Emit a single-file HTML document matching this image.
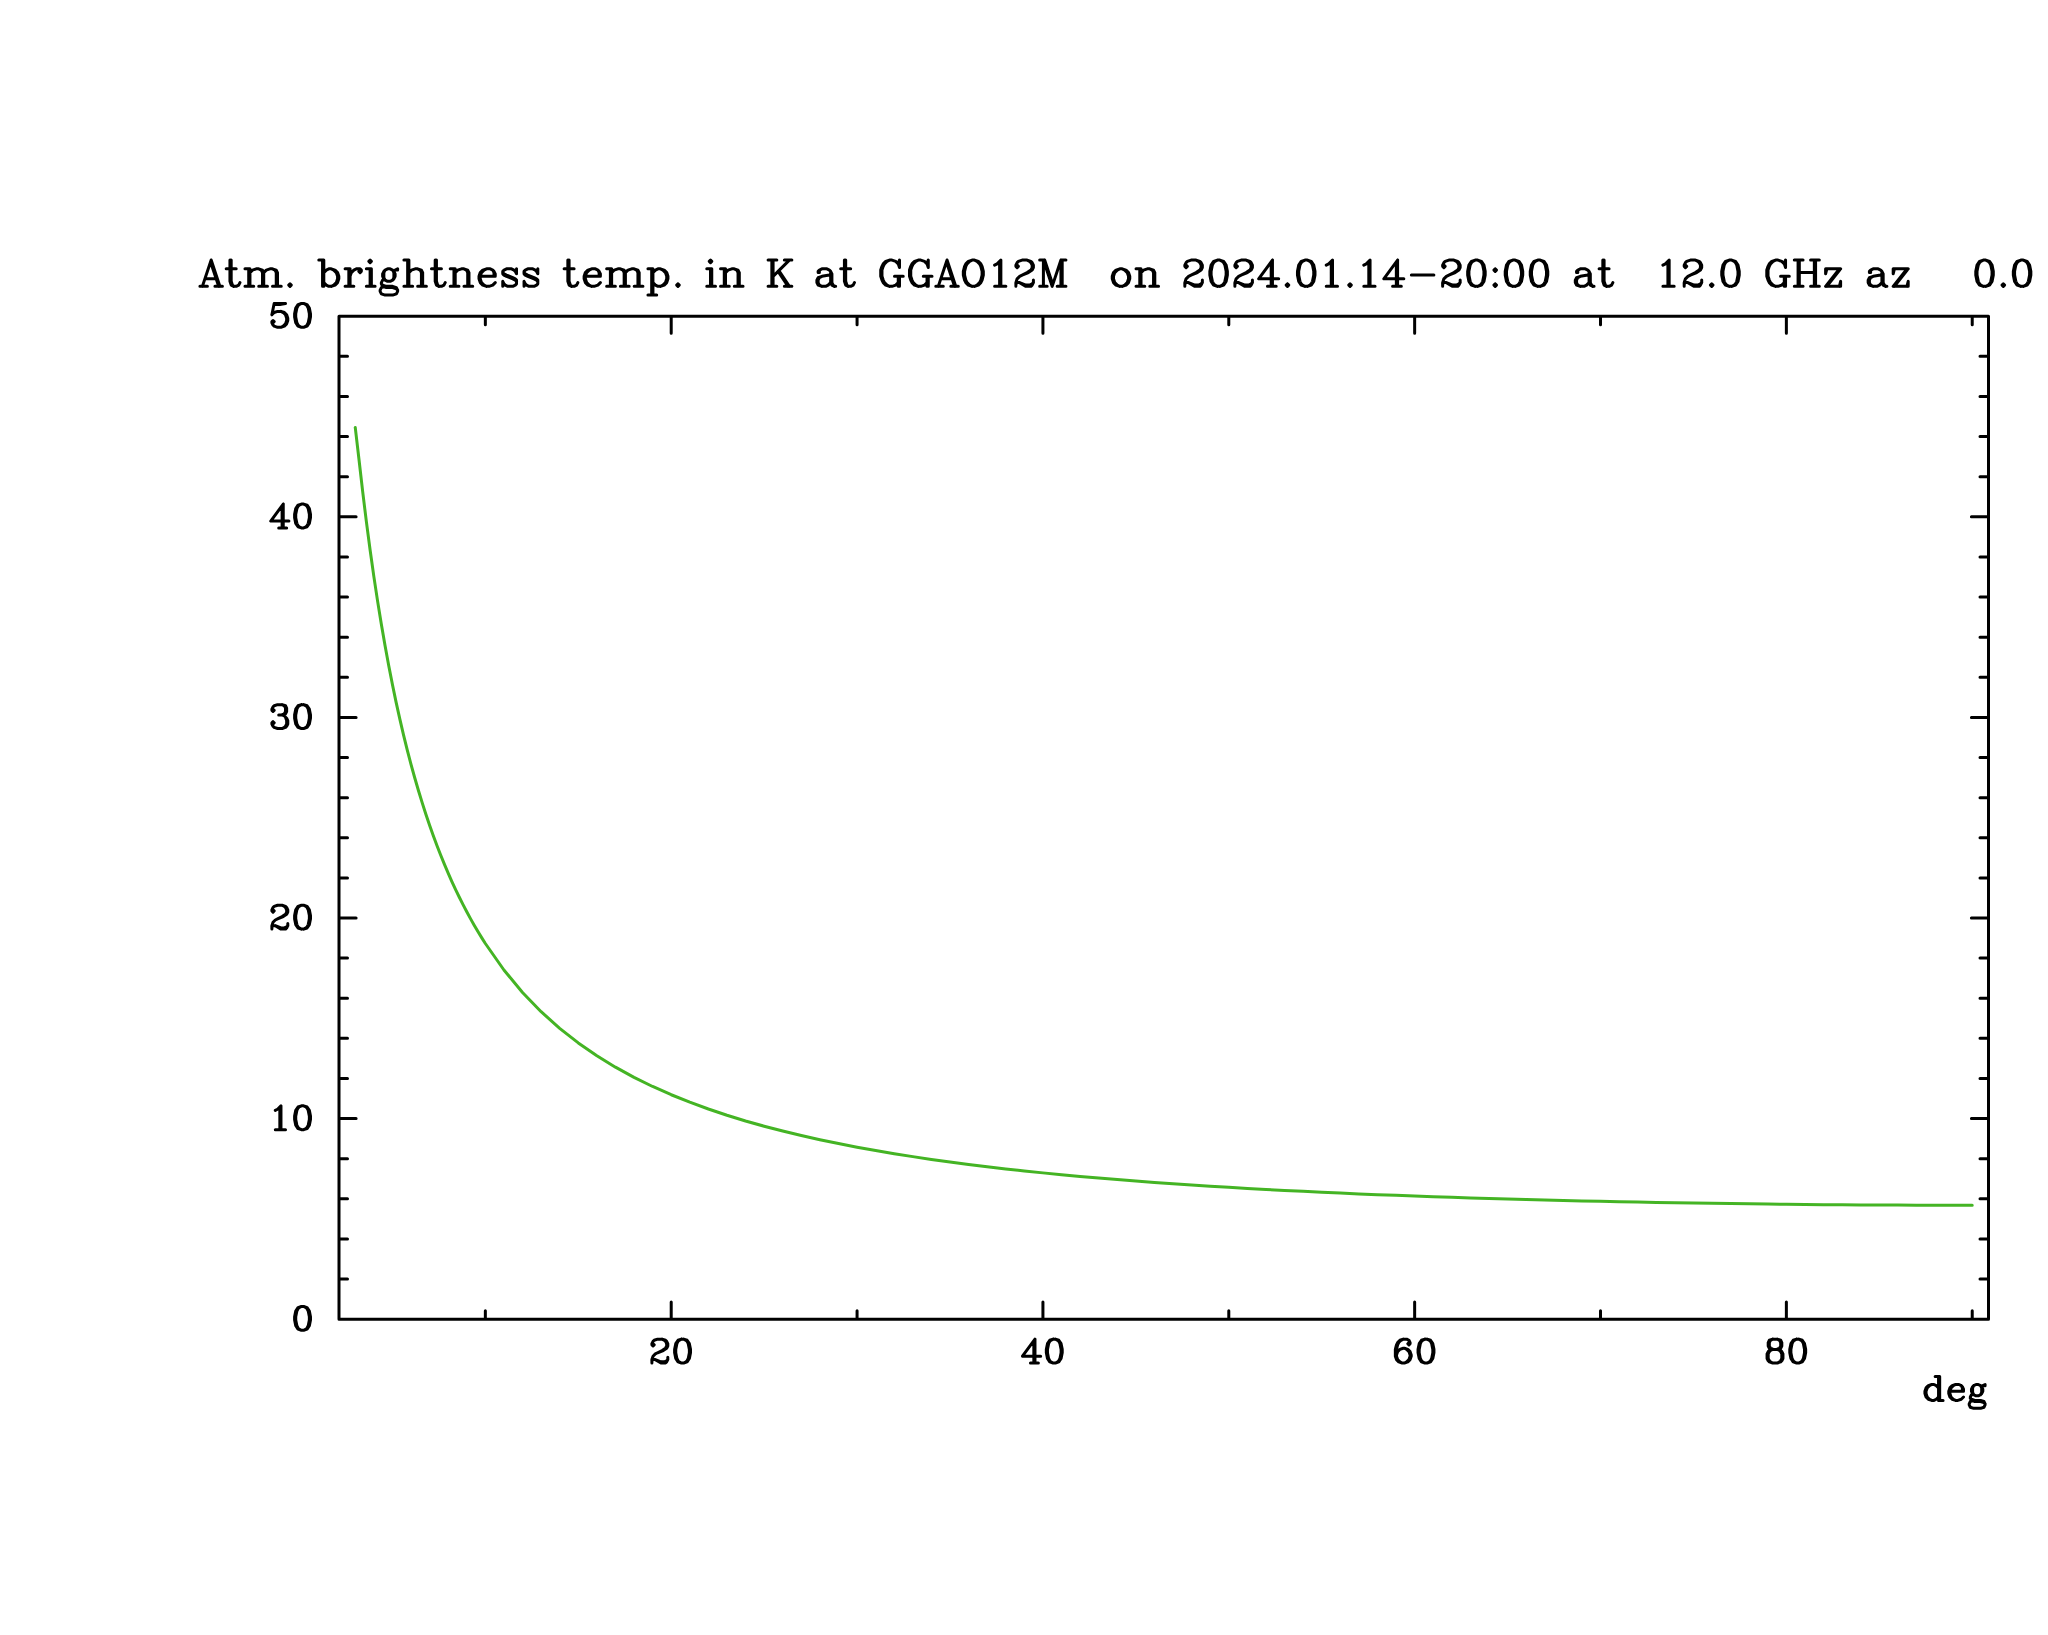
<!DOCTYPE html>
<html lang="en">
<head>
<meta charset="utf-8">
<title>Atm. brightness temp. in K at GGAO12M on 2024.01.14-20:00 at 12.0 GHz az 0.0</title>
<style>
html,body{margin:0;padding:0;background:#ffffff;font-family:"Liberation Serif",serif;}
body{width:2048px;height:1635px;overflow:hidden;position:relative;}
svg{display:block;position:absolute;left:0;top:0;}
.ink{fill:none;stroke:#000000;stroke-width:3.0;stroke-linecap:round;stroke-linejoin:round;}
.curve{fill:none;stroke:#44b424;stroke-width:3.0;stroke-linecap:round;stroke-linejoin:round;}
.sr{position:absolute;left:0;top:0;width:1px;height:1px;overflow:hidden;color:transparent;font-size:1px;white-space:nowrap;}
</style>
</head>
<body>
<svg width="2048" height="1635" viewBox="0 0 2048 1635" role="img" aria-label="Atmospheric brightness temperature versus elevation">
<rect x="0" y="0" width="2048" height="1635" fill="#ffffff"/>
<!-- plot frame and tick marks -->
<path class="ink" d="M339 316.2 H1988.5 V1319.2 H339 Z M485.35 1319.2 v-8.5 M485.35 316.2 v8.5 M671.21 1319.2 v-17.1 M671.21 316.2 v17.1 M857.07 1319.2 v-8.5 M857.07 316.2 v8.5 M1042.93 1319.2 v-17.1 M1042.93 316.2 v17.1 M1228.79 1319.2 v-8.5 M1228.79 316.2 v8.5 M1414.65 1319.2 v-17.1 M1414.65 316.2 v17.1 M1600.51 1319.2 v-8.5 M1600.51 316.2 v8.5 M1786.37 1319.2 v-17.1 M1786.37 316.2 v17.1 M1972.23 1319.2 v-8.5 M1972.23 316.2 v8.5 M339 1279.08 h8.5 M1988.5 1279.08 h-8.5 M339 1238.96 h8.5 M1988.5 1238.96 h-8.5 M339 1198.84 h8.5 M1988.5 1198.84 h-8.5 M339 1158.72 h8.5 M1988.5 1158.72 h-8.5 M339 1118.6 h17.1 M1988.5 1118.6 h-17.1 M339 1078.48 h8.5 M1988.5 1078.48 h-8.5 M339 1038.36 h8.5 M1988.5 1038.36 h-8.5 M339 998.24 h8.5 M1988.5 998.24 h-8.5 M339 958.12 h8.5 M1988.5 958.12 h-8.5 M339 918 h17.1 M1988.5 918 h-17.1 M339 877.88 h8.5 M1988.5 877.88 h-8.5 M339 837.76 h8.5 M1988.5 837.76 h-8.5 M339 797.64 h8.5 M1988.5 797.64 h-8.5 M339 757.52 h8.5 M1988.5 757.52 h-8.5 M339 717.4 h17.1 M1988.5 717.4 h-17.1 M339 677.28 h8.5 M1988.5 677.28 h-8.5 M339 637.16 h8.5 M1988.5 637.16 h-8.5 M339 597.04 h8.5 M1988.5 597.04 h-8.5 M339 556.92 h8.5 M1988.5 556.92 h-8.5 M339 516.8 h17.1 M1988.5 516.8 h-17.1 M339 476.68 h8.5 M1988.5 476.68 h-8.5 M339 436.56 h8.5 M1988.5 436.56 h-8.5 M339 396.44 h8.5 M1988.5 396.44 h-8.5 M339 356.32 h8.5 M1988.5 356.32 h-8.5"/>
<!-- title: Atm. brightness temp. in K at GGAO12M  on 2024.01.14-20:00 at  12.0 GHz az   0.0 -->
<path class="ink" d="M211.17 260.07 L202.4 286.35 M211.17 260.07 L219.93 286.35 M211.17 263.82 L218.67 286.35 M204.91 278.84 L216.17 278.84 M199.9 286.35 L207.41 286.35 M214.92 286.35 L222.43 286.35 M229.94 260.07 L229.94 281.34 L231.19 285.1 L233.69 286.35 L236.19 286.35 L238.7 285.1 L239.95 282.6 M231.19 260.07 L231.19 281.34 L232.44 285.1 L233.69 286.35 M226.18 268.83 L236.19 268.83 M248.71 268.83 L248.71 286.35 M249.96 268.83 L249.96 286.35 M249.96 272.58 L252.46 270.08 L256.22 268.83 L258.72 268.83 L262.48 270.08 L263.73 272.58 L263.73 286.35 M258.72 268.83 L261.23 270.08 L262.48 272.58 L262.48 286.35 M263.73 272.58 L266.23 270.08 L269.99 268.83 L272.49 268.83 L276.24 270.08 L277.49 272.58 L277.49 286.35 M272.49 268.83 L274.99 270.08 L276.24 272.58 L276.24 286.35 M244.96 268.83 L249.96 268.83 M244.96 286.35 L253.72 286.35 M258.72 286.35 L267.48 286.35 M272.49 286.35 L281.25 286.35 M290.01 283.85 L288.76 285.1 L290.01 286.35 L291.26 285.1 L290.01 283.85 M322.55 260.07 L322.55 286.35 M323.8 260.07 L323.8 286.35 M323.8 272.58 L326.3 270.08 L328.81 268.83 L331.31 268.83 L335.06 270.08 L337.57 272.58 L338.82 276.34 L338.82 278.84 L337.57 282.6 L335.06 285.1 L331.31 286.35 L328.81 286.35 L326.3 285.1 L323.8 282.6 M331.31 268.83 L333.81 270.08 L336.32 272.58 L337.57 276.34 L337.57 278.84 L336.32 282.6 L333.81 285.1 L331.31 286.35 M318.79 260.07 L323.8 260.07 M348.83 268.83 L348.83 286.35 M350.08 268.83 L350.08 286.35 M350.08 276.34 L351.33 272.58 L353.84 270.08 L356.34 268.83 L360.09 268.83 L361.35 270.08 L361.35 271.33 L360.09 272.58 L358.84 271.33 L360.09 270.08 M345.08 268.83 L350.08 268.83 M345.08 286.35 L353.84 286.35 M370.11 260.07 L368.85 261.32 L370.11 262.57 L371.36 261.32 L370.11 260.07 M370.11 268.83 L370.11 286.35 M371.36 268.83 L371.36 286.35 M366.35 268.83 L371.36 268.83 M366.35 286.35 L375.11 286.35 M387.63 268.83 L385.12 270.08 L383.87 271.33 L382.62 273.84 L382.62 276.34 L383.87 278.84 L385.12 280.09 L387.63 281.34 L390.13 281.34 L392.63 280.09 L393.88 278.84 L395.14 276.34 L395.14 273.84 L393.88 271.33 L392.63 270.08 L390.13 268.83 L387.63 268.83 M385.12 270.08 L383.87 272.58 L383.87 277.59 L385.12 280.09 M392.63 280.09 L393.88 277.59 L393.88 272.58 L392.63 270.08 M393.88 271.33 L395.14 270.08 L397.64 268.83 L397.64 270.08 L395.14 270.08 M383.87 278.84 L382.62 280.09 L381.37 282.6 L381.37 283.85 L382.62 286.35 L386.38 287.6 L392.63 287.6 L396.39 288.85 L397.64 290.1 M381.37 283.85 L382.62 285.1 L386.38 286.35 L392.63 286.35 L396.39 287.6 L397.64 290.1 L397.64 291.36 L396.39 293.86 L392.63 295.11 L385.12 295.11 L381.37 293.86 L380.12 291.36 L380.12 290.1 L381.37 287.6 L385.12 286.35 M407.65 260.07 L407.65 286.35 M408.9 260.07 L408.9 286.35 M408.9 272.58 L411.4 270.08 L415.16 268.83 L417.66 268.83 L421.42 270.08 L422.67 272.58 L422.67 286.35 M417.66 268.83 L420.17 270.08 L421.42 272.58 L421.42 286.35 M403.9 260.07 L408.9 260.07 M403.9 286.35 L412.66 286.35 M417.66 286.35 L426.42 286.35 M435.18 260.07 L435.18 281.34 L436.44 285.1 L438.94 286.35 L441.44 286.35 L443.94 285.1 L445.2 282.6 M436.44 260.07 L436.44 281.34 L437.69 285.1 L438.94 286.35 M431.43 268.83 L441.44 268.83 M453.96 268.83 L453.96 286.35 M455.21 268.83 L455.21 286.35 M455.21 272.58 L457.71 270.08 L461.47 268.83 L463.97 268.83 L467.72 270.08 L468.97 272.58 L468.97 286.35 M463.97 268.83 L466.47 270.08 L467.72 272.58 L467.72 286.35 M450.2 268.83 L455.21 268.83 M450.2 286.35 L458.96 286.35 M463.97 286.35 L472.73 286.35 M480.24 276.34 L495.26 276.34 L495.26 273.84 L494 271.33 L492.75 270.08 L490.25 268.83 L486.5 268.83 L482.74 270.08 L480.24 272.58 L478.99 276.34 L478.99 278.84 L480.24 282.6 L482.74 285.1 L486.5 286.35 L489 286.35 L492.75 285.1 L495.26 282.6 M494 276.34 L494 272.58 L492.75 270.08 M486.5 268.83 L483.99 270.08 L481.49 272.58 L480.24 276.34 L480.24 278.84 L481.49 282.6 L483.99 285.1 L486.5 286.35 M515.28 271.33 L516.53 268.83 L516.53 273.84 L515.28 271.33 L514.03 270.08 L511.52 268.83 L506.52 268.83 L504.02 270.08 L502.76 271.33 L502.76 273.84 L504.02 275.09 L506.52 276.34 L512.78 278.84 L515.28 280.09 L516.53 281.34 M502.76 272.58 L504.02 273.84 L506.52 275.09 L512.78 277.59 L515.28 278.84 L516.53 280.09 L516.53 283.85 L515.28 285.1 L512.78 286.35 L507.77 286.35 L505.27 285.1 L504.02 283.85 L502.76 281.34 L502.76 286.35 L504.02 283.85 M536.56 271.33 L537.81 268.83 L537.81 273.84 L536.56 271.33 L535.3 270.08 L532.8 268.83 L527.79 268.83 L525.29 270.08 L524.04 271.33 L524.04 273.84 L525.29 275.09 L527.79 276.34 L534.05 278.84 L536.56 280.09 L537.81 281.34 M524.04 272.58 L525.29 273.84 L527.79 275.09 L534.05 277.59 L536.56 278.84 L537.81 280.09 L537.81 283.85 L536.56 285.1 L534.05 286.35 L529.05 286.35 L526.54 285.1 L525.29 283.85 L524.04 281.34 L524.04 286.35 L525.29 283.85 M567.84 260.07 L567.84 281.34 L569.09 285.1 L571.6 286.35 L574.1 286.35 L576.6 285.1 L577.85 282.6 M569.09 260.07 L569.09 281.34 L570.35 285.1 L571.6 286.35 M564.09 268.83 L574.1 268.83 M585.36 276.34 L600.38 276.34 L600.38 273.84 L599.13 271.33 L597.88 270.08 L595.38 268.83 L591.62 268.83 L587.87 270.08 L585.36 272.58 L584.11 276.34 L584.11 278.84 L585.36 282.6 L587.87 285.1 L591.62 286.35 L594.12 286.35 L597.88 285.1 L600.38 282.6 M599.13 276.34 L599.13 272.58 L597.88 270.08 M591.62 268.83 L589.12 270.08 L586.62 272.58 L585.36 276.34 L585.36 278.84 L586.62 282.6 L589.12 285.1 L591.62 286.35 M610.39 268.83 L610.39 286.35 M611.64 268.83 L611.64 286.35 M611.64 272.58 L614.15 270.08 L617.9 268.83 L620.41 268.83 L624.16 270.08 L625.41 272.58 L625.41 286.35 M620.41 268.83 L622.91 270.08 L624.16 272.58 L624.16 286.35 M625.41 272.58 L627.91 270.08 L631.67 268.83 L634.17 268.83 L637.93 270.08 L639.18 272.58 L639.18 286.35 M634.17 268.83 L636.68 270.08 L637.93 272.58 L637.93 286.35 M606.64 268.83 L611.64 268.83 M606.64 286.35 L615.4 286.35 M620.41 286.35 L629.17 286.35 M634.17 286.35 L642.93 286.35 M651.69 268.83 L651.69 295.11 M652.94 268.83 L652.94 295.11 M652.94 272.58 L655.45 270.08 L657.95 268.83 L660.45 268.83 L664.21 270.08 L666.71 272.58 L667.96 276.34 L667.96 278.84 L666.71 282.6 L664.21 285.1 L660.45 286.35 L657.95 286.35 L655.45 285.1 L652.94 282.6 M660.45 268.83 L662.96 270.08 L665.46 272.58 L666.71 276.34 L666.71 278.84 L665.46 282.6 L662.96 285.1 L660.45 286.35 M647.94 268.83 L652.94 268.83 M647.94 295.11 L656.7 295.11 M677.97 283.85 L676.72 285.1 L677.97 286.35 L679.23 285.1 L677.97 283.85 M710.51 260.07 L709.26 261.32 L710.51 262.57 L711.76 261.32 L710.51 260.07 M710.51 268.83 L710.51 286.35 M711.76 268.83 L711.76 286.35 M706.76 268.83 L711.76 268.83 M706.76 286.35 L715.52 286.35 M724.28 268.83 L724.28 286.35 M725.53 268.83 L725.53 286.35 M725.53 272.58 L728.03 270.08 L731.79 268.83 L734.29 268.83 L738.05 270.08 L739.3 272.58 L739.3 286.35 M734.29 268.83 L736.79 270.08 L738.05 272.58 L738.05 286.35 M720.53 268.83 L725.53 268.83 M720.53 286.35 L729.29 286.35 M734.29 286.35 L743.05 286.35 M771.84 260.07 L771.84 286.35 M773.09 260.07 L773.09 286.35 M789.36 260.07 L773.09 276.34 M779.35 271.33 L789.36 286.35 M778.09 271.33 L788.11 286.35 M768.08 260.07 L776.84 260.07 M784.35 260.07 L791.86 260.07 M768.08 286.35 L776.84 286.35 M784.35 286.35 L791.86 286.35 M819.39 271.33 L819.39 272.58 L818.14 272.58 L818.14 271.33 L819.39 270.08 L821.9 268.83 L826.9 268.83 L829.41 270.08 L830.66 271.33 L831.91 273.84 L831.91 282.6 L833.16 285.1 L834.41 286.35 M830.66 271.33 L830.66 282.6 L831.91 285.1 L834.41 286.35 L835.66 286.35 M830.66 273.84 L829.41 275.09 L821.9 276.34 L818.14 277.59 L816.89 280.09 L816.89 282.6 L818.14 285.1 L821.9 286.35 L825.65 286.35 L828.15 285.1 L830.66 282.6 M821.9 276.34 L819.39 277.59 L818.14 280.09 L818.14 282.6 L819.39 285.1 L821.9 286.35 M844.42 260.07 L844.42 281.34 L845.68 285.1 L848.18 286.35 L850.68 286.35 L853.18 285.1 L854.44 282.6 M845.68 260.07 L845.68 281.34 L846.93 285.1 L848.18 286.35 M840.67 268.83 L850.68 268.83 M898.24 263.82 L899.49 267.58 L899.49 260.07 L898.24 263.82 L895.74 261.32 L891.98 260.07 L889.48 260.07 L885.72 261.32 L883.22 263.82 L881.97 266.33 L880.72 270.08 L880.72 276.34 L881.97 280.09 L883.22 282.6 L885.72 285.1 L889.48 286.35 L891.98 286.35 L895.74 285.1 L898.24 282.6 M889.48 260.07 L886.98 261.32 L884.47 263.82 L883.22 266.33 L881.97 270.08 L881.97 276.34 L883.22 280.09 L884.47 282.6 L886.98 285.1 L889.48 286.35 M898.24 276.34 L898.24 286.35 M899.49 276.34 L899.49 286.35 M894.48 276.34 L903.24 276.34 M927.02 263.82 L928.27 267.58 L928.27 260.07 L927.02 263.82 L924.52 261.32 L920.77 260.07 L918.26 260.07 L914.51 261.32 L912 263.82 L910.75 266.33 L909.5 270.08 L909.5 276.34 L910.75 280.09 L912 282.6 L914.51 285.1 L918.26 286.35 L920.77 286.35 L924.52 285.1 L927.02 282.6 M918.26 260.07 L915.76 261.32 L913.26 263.82 L912 266.33 L910.75 270.08 L910.75 276.34 L912 280.09 L913.26 282.6 L915.76 285.1 L918.26 286.35 M927.02 276.34 L927.02 286.35 M928.27 276.34 L928.27 286.35 M923.27 276.34 L932.03 276.34 M947.05 260.07 L938.29 286.35 M947.05 260.07 L955.81 286.35 M947.05 263.82 L954.56 286.35 M940.79 278.84 L952.05 278.84 M935.78 286.35 L943.29 286.35 M950.8 286.35 L958.31 286.35 M972.08 260.07 L968.32 261.32 L965.82 263.82 L964.57 266.33 L963.32 271.33 L963.32 275.09 L964.57 280.09 L965.82 282.6 L968.32 285.1 L972.08 286.35 L974.58 286.35 L978.33 285.1 L980.84 282.6 L982.09 280.09 L983.34 275.09 L983.34 271.33 L982.09 266.33 L980.84 263.82 L978.33 261.32 L974.58 260.07 L972.08 260.07 M972.08 260.07 L969.57 261.32 L967.07 263.82 L965.82 266.33 L964.57 271.33 L964.57 275.09 L965.82 280.09 L967.07 282.6 L969.57 285.1 L972.08 286.35 M974.58 286.35 L977.08 285.1 L979.59 282.6 L980.84 280.09 L982.09 275.09 L982.09 271.33 L980.84 266.33 L979.59 263.82 L977.08 261.32 L974.58 260.07 M994.6 265.07 L997.11 263.82 L1000.86 260.07 L1000.86 286.35 M999.61 261.32 L999.61 286.35 M994.6 286.35 L1005.87 286.35 M1017.13 265.07 L1018.38 266.33 L1017.13 267.58 L1015.88 266.33 L1015.88 265.07 L1017.13 262.57 L1018.38 261.32 L1022.14 260.07 L1027.14 260.07 L1030.9 261.32 L1032.15 262.57 L1033.4 265.07 L1033.4 267.58 L1032.15 270.08 L1028.39 272.58 L1022.14 275.09 L1019.63 276.34 L1017.13 278.84 L1015.88 282.6 L1015.88 286.35 M1027.14 260.07 L1029.65 261.32 L1030.9 262.57 L1032.15 265.07 L1032.15 267.58 L1030.9 270.08 L1027.14 272.58 L1022.14 275.09 M1015.88 283.85 L1017.13 282.6 L1019.63 282.6 L1025.89 285.1 L1029.65 285.1 L1032.15 283.85 L1033.4 282.6 M1019.63 282.6 L1025.89 286.35 L1030.9 286.35 L1032.15 285.1 L1033.4 282.6 L1033.4 280.09 M1043.41 260.07 L1043.41 286.35 M1044.66 260.07 L1052.17 282.6 M1043.41 260.07 L1052.17 286.35 M1060.93 260.07 L1052.17 286.35 M1060.93 260.07 L1060.93 286.35 M1062.19 260.07 L1062.19 286.35 M1039.66 260.07 L1044.66 260.07 M1060.93 260.07 L1065.94 260.07 M1039.66 286.35 L1047.17 286.35 M1057.18 286.35 L1065.94 286.35 M1119.75 268.83 L1116 270.08 L1113.5 272.58 L1112.25 276.34 L1112.25 278.84 L1113.5 282.6 L1116 285.1 L1119.75 286.35 L1122.26 286.35 L1126.01 285.1 L1128.51 282.6 L1129.77 278.84 L1129.77 276.34 L1128.51 272.58 L1126.01 270.08 L1122.26 268.83 L1119.75 268.83 M1119.75 268.83 L1117.25 270.08 L1114.75 272.58 L1113.5 276.34 L1113.5 278.84 L1114.75 282.6 L1117.25 285.1 L1119.75 286.35 M1122.26 286.35 L1124.76 285.1 L1127.26 282.6 L1128.51 278.84 L1128.51 276.34 L1127.26 272.58 L1124.76 270.08 L1122.26 268.83 M1139.78 268.83 L1139.78 286.35 M1141.03 268.83 L1141.03 286.35 M1141.03 272.58 L1143.53 270.08 L1147.29 268.83 L1149.79 268.83 L1153.54 270.08 L1154.8 272.58 L1154.8 286.35 M1149.79 268.83 L1152.29 270.08 L1153.54 272.58 L1153.54 286.35 M1136.02 268.83 L1141.03 268.83 M1136.02 286.35 L1144.78 286.35 M1149.79 286.35 L1158.55 286.35 M1186.08 265.07 L1187.34 266.33 L1186.08 267.58 L1184.83 266.33 L1184.83 265.07 L1186.08 262.57 L1187.34 261.32 L1191.09 260.07 L1196.1 260.07 L1199.85 261.32 L1201.1 262.57 L1202.35 265.07 L1202.35 267.58 L1201.1 270.08 L1197.35 272.58 L1191.09 275.09 L1188.59 276.34 L1186.08 278.84 L1184.83 282.6 L1184.83 286.35 M1196.1 260.07 L1198.6 261.32 L1199.85 262.57 L1201.1 265.07 L1201.1 267.58 L1199.85 270.08 L1196.1 272.58 L1191.09 275.09 M1184.83 283.85 L1186.08 282.6 L1188.59 282.6 L1194.84 285.1 L1198.6 285.1 L1201.1 283.85 L1202.35 282.6 M1188.59 282.6 L1194.84 286.35 L1199.85 286.35 L1201.1 285.1 L1202.35 282.6 L1202.35 280.09 M1217.37 260.07 L1213.62 261.32 L1211.11 265.07 L1209.86 271.33 L1209.86 275.09 L1211.11 281.34 L1213.62 285.1 L1217.37 286.35 L1219.87 286.35 L1223.63 285.1 L1226.13 281.34 L1227.38 275.09 L1227.38 271.33 L1226.13 265.07 L1223.63 261.32 L1219.87 260.07 L1217.37 260.07 M1217.37 260.07 L1214.87 261.32 L1213.62 262.57 L1212.37 265.07 L1211.11 271.33 L1211.11 275.09 L1212.37 281.34 L1213.62 283.85 L1214.87 285.1 L1217.37 286.35 M1219.87 286.35 L1222.38 285.1 L1223.63 283.85 L1224.88 281.34 L1226.13 275.09 L1226.13 271.33 L1224.88 265.07 L1223.63 262.57 L1222.38 261.32 L1219.87 260.07 M1236.14 265.07 L1237.4 266.33 L1236.14 267.58 L1234.89 266.33 L1234.89 265.07 L1236.14 262.57 L1237.4 261.32 L1241.15 260.07 L1246.16 260.07 L1249.91 261.32 L1251.16 262.57 L1252.41 265.07 L1252.41 267.58 L1251.16 270.08 L1247.41 272.58 L1241.15 275.09 L1238.65 276.34 L1236.14 278.84 L1234.89 282.6 L1234.89 286.35 M1246.16 260.07 L1248.66 261.32 L1249.91 262.57 L1251.16 265.07 L1251.16 267.58 L1249.91 270.08 L1246.16 272.58 L1241.15 275.09 M1234.89 283.85 L1236.14 282.6 L1238.65 282.6 L1244.9 285.1 L1248.66 285.1 L1251.16 283.85 L1252.41 282.6 M1238.65 282.6 L1244.9 286.35 L1249.91 286.35 L1251.16 285.1 L1252.41 282.6 L1252.41 280.09 M1271.19 262.57 L1271.19 286.35 M1272.44 260.07 L1272.44 286.35 M1272.44 260.07 L1258.67 278.84 L1278.69 278.84 M1267.43 286.35 L1276.19 286.35 M1287.46 283.85 L1286.2 285.1 L1287.46 286.35 L1288.71 285.1 L1287.46 283.85 M1304.98 260.07 L1301.22 261.32 L1298.72 265.07 L1297.47 271.33 L1297.47 275.09 L1298.72 281.34 L1301.22 285.1 L1304.98 286.35 L1307.48 286.35 L1311.23 285.1 L1313.74 281.34 L1314.99 275.09 L1314.99 271.33 L1313.74 265.07 L1311.23 261.32 L1307.48 260.07 L1304.98 260.07 M1304.98 260.07 L1302.47 261.32 L1301.22 262.57 L1299.97 265.07 L1298.72 271.33 L1298.72 275.09 L1299.97 281.34 L1301.22 283.85 L1302.47 285.1 L1304.98 286.35 M1307.48 286.35 L1309.98 285.1 L1311.23 283.85 L1312.49 281.34 L1313.74 275.09 L1313.74 271.33 L1312.49 265.07 L1311.23 262.57 L1309.98 261.32 L1307.48 260.07 M1326.25 265.07 L1328.75 263.82 L1332.51 260.07 L1332.51 286.35 M1331.26 261.32 L1331.26 286.35 M1326.25 286.35 L1337.52 286.35 M1350.03 283.85 L1348.78 285.1 L1350.03 286.35 L1351.28 285.1 L1350.03 283.85 M1363.8 265.07 L1366.3 263.82 L1370.05 260.07 L1370.05 286.35 M1368.8 261.32 L1368.8 286.35 M1363.8 286.35 L1375.06 286.35 M1396.34 262.57 L1396.34 286.35 M1397.59 260.07 L1397.59 286.35 M1397.59 260.07 L1383.82 278.84 L1403.84 278.84 M1392.58 286.35 L1401.34 286.35 M1411.35 275.09 L1433.88 275.09 M1443.89 265.07 L1445.14 266.33 L1443.89 267.58 L1442.64 266.33 L1442.64 265.07 L1443.89 262.57 L1445.14 261.32 L1448.9 260.07 L1453.9 260.07 L1457.66 261.32 L1458.91 262.57 L1460.16 265.07 L1460.16 267.58 L1458.91 270.08 L1455.16 272.58 L1448.9 275.09 L1446.4 276.34 L1443.89 278.84 L1442.64 282.6 L1442.64 286.35 M1453.9 260.07 L1456.41 261.32 L1457.66 262.57 L1458.91 265.07 L1458.91 267.58 L1457.66 270.08 L1453.9 272.58 L1448.9 275.09 M1442.64 283.85 L1443.89 282.6 L1446.4 282.6 L1452.65 285.1 L1456.41 285.1 L1458.91 283.85 L1460.16 282.6 M1446.4 282.6 L1452.65 286.35 L1457.66 286.35 L1458.91 285.1 L1460.16 282.6 L1460.16 280.09 M1475.18 260.07 L1471.43 261.32 L1468.92 265.07 L1467.67 271.33 L1467.67 275.09 L1468.92 281.34 L1471.43 285.1 L1475.18 286.35 L1477.68 286.35 L1481.44 285.1 L1483.94 281.34 L1485.19 275.09 L1485.19 271.33 L1483.94 265.07 L1481.44 261.32 L1477.68 260.07 L1475.18 260.07 M1475.18 260.07 L1472.68 261.32 L1471.43 262.57 L1470.17 265.07 L1468.92 271.33 L1468.92 275.09 L1470.17 281.34 L1471.43 283.85 L1472.68 285.1 L1475.18 286.35 M1477.68 286.35 L1480.19 285.1 L1481.44 283.85 L1482.69 281.34 L1483.94 275.09 L1483.94 271.33 L1482.69 265.07 L1481.44 262.57 L1480.19 261.32 L1477.68 260.07 M1495.2 268.83 L1493.95 270.08 L1495.2 271.33 L1496.46 270.08 L1495.2 268.83 M1495.2 283.85 L1493.95 285.1 L1495.2 286.35 L1496.46 285.1 L1495.2 283.85 M1512.73 260.07 L1508.97 261.32 L1506.47 265.07 L1505.22 271.33 L1505.22 275.09 L1506.47 281.34 L1508.97 285.1 L1512.73 286.35 L1515.23 286.35 L1518.98 285.1 L1521.49 281.34 L1522.74 275.09 L1522.74 271.33 L1521.49 265.07 L1518.98 261.32 L1515.23 260.07 L1512.73 260.07 M1512.73 260.07 L1510.22 261.32 L1508.97 262.57 L1507.72 265.07 L1506.47 271.33 L1506.47 275.09 L1507.72 281.34 L1508.97 283.85 L1510.22 285.1 L1512.73 286.35 M1515.23 286.35 L1517.73 285.1 L1518.98 283.85 L1520.23 281.34 L1521.49 275.09 L1521.49 271.33 L1520.23 265.07 L1518.98 262.57 L1517.73 261.32 L1515.23 260.07 M1537.76 260.07 L1534 261.32 L1531.5 265.07 L1530.25 271.33 L1530.25 275.09 L1531.5 281.34 L1534 285.1 L1537.76 286.35 L1540.26 286.35 L1544.01 285.1 L1546.52 281.34 L1547.77 275.09 L1547.77 271.33 L1546.52 265.07 L1544.01 261.32 L1540.26 260.07 L1537.76 260.07 M1537.76 260.07 L1535.25 261.32 L1534 262.57 L1532.75 265.07 L1531.5 271.33 L1531.5 275.09 L1532.75 281.34 L1534 283.85 L1535.25 285.1 L1537.76 286.35 M1540.26 286.35 L1542.76 285.1 L1544.01 283.85 L1545.26 281.34 L1546.52 275.09 L1546.52 271.33 L1545.26 265.07 L1544.01 262.57 L1542.76 261.32 L1540.26 260.07 M1577.8 271.33 L1577.8 272.58 L1576.55 272.58 L1576.55 271.33 L1577.8 270.08 L1580.31 268.83 L1585.31 268.83 L1587.82 270.08 L1589.07 271.33 L1590.32 273.84 L1590.32 282.6 L1591.57 285.1 L1592.82 286.35 M1589.07 271.33 L1589.07 282.6 L1590.32 285.1 L1592.82 286.35 L1594.07 286.35 M1589.07 273.84 L1587.82 275.09 L1580.31 276.34 L1576.55 277.59 L1575.3 280.09 L1575.3 282.6 L1576.55 285.1 L1580.31 286.35 L1584.06 286.35 L1586.56 285.1 L1589.07 282.6 M1580.31 276.34 L1577.8 277.59 L1576.55 280.09 L1576.55 282.6 L1577.8 285.1 L1580.31 286.35 M1602.83 260.07 L1602.83 281.34 L1604.08 285.1 L1606.59 286.35 L1609.09 286.35 L1611.59 285.1 L1612.85 282.6 M1604.08 260.07 L1604.08 281.34 L1605.34 285.1 L1606.59 286.35 M1599.08 268.83 L1609.09 268.83 M1662.91 265.07 L1665.41 263.82 L1669.16 260.07 L1669.16 286.35 M1667.91 261.32 L1667.91 286.35 M1662.91 286.35 L1674.17 286.35 M1685.43 265.07 L1686.68 266.33 L1685.43 267.58 L1684.18 266.33 L1684.18 265.07 L1685.43 262.57 L1686.68 261.32 L1690.44 260.07 L1695.44 260.07 L1699.2 261.32 L1700.45 262.57 L1701.7 265.07 L1701.7 267.58 L1700.45 270.08 L1696.7 272.58 L1690.44 275.09 L1687.94 276.34 L1685.43 278.84 L1684.18 282.6 L1684.18 286.35 M1695.44 260.07 L1697.95 261.32 L1699.2 262.57 L1700.45 265.07 L1700.45 267.58 L1699.2 270.08 L1695.44 272.58 L1690.44 275.09 M1684.18 283.85 L1685.43 282.6 L1687.94 282.6 L1694.19 285.1 L1697.95 285.1 L1700.45 283.85 L1701.7 282.6 M1687.94 282.6 L1694.19 286.35 L1699.2 286.35 L1700.45 285.1 L1701.7 282.6 L1701.7 280.09 M1711.71 283.85 L1710.46 285.1 L1711.71 286.35 L1712.97 285.1 L1711.71 283.85 M1729.23 260.07 L1725.48 261.32 L1722.98 265.07 L1721.73 271.33 L1721.73 275.09 L1722.98 281.34 L1725.48 285.1 L1729.23 286.35 L1731.74 286.35 L1735.49 285.1 L1738 281.34 L1739.25 275.09 L1739.25 271.33 L1738 265.07 L1735.49 261.32 L1731.74 260.07 L1729.23 260.07 M1729.23 260.07 L1726.73 261.32 L1725.48 262.57 L1724.23 265.07 L1722.98 271.33 L1722.98 275.09 L1724.23 281.34 L1725.48 283.85 L1726.73 285.1 L1729.23 286.35 M1731.74 286.35 L1734.24 285.1 L1735.49 283.85 L1736.74 281.34 L1738 275.09 L1738 271.33 L1736.74 265.07 L1735.49 262.57 L1734.24 261.32 L1731.74 260.07 M1784.3 263.82 L1785.55 267.58 L1785.55 260.07 L1784.3 263.82 L1781.8 261.32 L1778.04 260.07 L1775.54 260.07 L1771.79 261.32 L1769.28 263.82 L1768.03 266.33 L1766.78 270.08 L1766.78 276.34 L1768.03 280.09 L1769.28 282.6 L1771.79 285.1 L1775.54 286.35 L1778.04 286.35 L1781.8 285.1 L1784.3 282.6 M1775.54 260.07 L1773.04 261.32 L1770.53 263.82 L1769.28 266.33 L1768.03 270.08 L1768.03 276.34 L1769.28 280.09 L1770.53 282.6 L1773.04 285.1 L1775.54 286.35 M1784.3 276.34 L1784.3 286.35 M1785.55 276.34 L1785.55 286.35 M1780.55 276.34 L1789.31 276.34 M1798.07 260.07 L1798.07 286.35 M1799.32 260.07 L1799.32 286.35 M1814.34 260.07 L1814.34 286.35 M1815.59 260.07 L1815.59 286.35 M1794.31 260.07 L1803.07 260.07 M1810.58 260.07 L1819.34 260.07 M1799.32 272.58 L1814.34 272.58 M1794.31 286.35 L1803.07 286.35 M1810.58 286.35 L1819.34 286.35 M1839.37 268.83 L1825.6 286.35 M1840.62 268.83 L1826.85 286.35 M1826.85 268.83 L1825.6 273.84 L1825.6 268.83 L1840.62 268.83 M1825.6 286.35 L1840.62 286.35 L1840.62 281.34 L1839.37 286.35 M1870.65 271.33 L1870.65 272.58 L1869.4 272.58 L1869.4 271.33 L1870.65 270.08 L1873.16 268.83 L1878.16 268.83 L1880.67 270.08 L1881.92 271.33 L1883.17 273.84 L1883.17 282.6 L1884.42 285.1 L1885.67 286.35 M1881.92 271.33 L1881.92 282.6 L1883.17 285.1 L1885.67 286.35 L1886.92 286.35 M1881.92 273.84 L1880.67 275.09 L1873.16 276.34 L1869.4 277.59 L1868.15 280.09 L1868.15 282.6 L1869.4 285.1 L1873.16 286.35 L1876.91 286.35 L1879.41 285.1 L1881.92 282.6 M1873.16 276.34 L1870.65 277.59 L1869.4 280.09 L1869.4 282.6 L1870.65 285.1 L1873.16 286.35 M1906.95 268.83 L1893.18 286.35 M1908.2 268.83 L1894.43 286.35 M1894.43 268.83 L1893.18 273.84 L1893.18 268.83 L1908.2 268.83 M1893.18 286.35 L1908.2 286.35 L1908.2 281.34 L1906.95 286.35 M1983.29 260.07 L1979.53 261.32 L1977.03 265.07 L1975.78 271.33 L1975.78 275.09 L1977.03 281.34 L1979.53 285.1 L1983.29 286.35 L1985.79 286.35 L1989.55 285.1 L1992.05 281.34 L1993.3 275.09 L1993.3 271.33 L1992.05 265.07 L1989.55 261.32 L1985.79 260.07 L1983.29 260.07 M1983.29 260.07 L1980.79 261.32 L1979.53 262.57 L1978.28 265.07 L1977.03 271.33 L1977.03 275.09 L1978.28 281.34 L1979.53 283.85 L1980.79 285.1 L1983.29 286.35 M1985.79 286.35 L1988.3 285.1 L1989.55 283.85 L1990.8 281.34 L1992.05 275.09 L1992.05 271.33 L1990.8 265.07 L1989.55 262.57 L1988.3 261.32 L1985.79 260.07 M2003.31 283.85 L2002.06 285.1 L2003.31 286.35 L2004.56 285.1 L2003.31 283.85 M2020.83 260.07 L2017.08 261.32 L2014.58 265.07 L2013.33 271.33 L2013.33 275.09 L2014.58 281.34 L2017.08 285.1 L2020.83 286.35 L2023.34 286.35 L2027.09 285.1 L2029.59 281.34 L2030.85 275.09 L2030.85 271.33 L2029.59 265.07 L2027.09 261.32 L2023.34 260.07 L2020.83 260.07 M2020.83 260.07 L2018.33 261.32 L2017.08 262.57 L2015.83 265.07 L2014.58 271.33 L2014.58 275.09 L2015.83 281.34 L2017.08 283.85 L2018.33 285.1 L2020.83 286.35 M2023.34 286.35 L2025.84 285.1 L2027.09 283.85 L2028.34 281.34 L2029.59 275.09 L2029.59 271.33 L2028.34 265.07 L2027.09 262.57 L2025.84 261.32 L2023.34 260.07"/>
<!-- axis numeric labels (x: 20 40 60 80, y: 0 10 20 30 40 50) and unit label "deg" -->
<path class="ink" d="M653.04 1343.7 L654.18 1344.83 L653.04 1345.97 L651.9 1344.83 L651.9 1343.7 L653.04 1341.43 L654.18 1340.29 L657.58 1339.16 L662.12 1339.16 L665.53 1340.29 L666.66 1341.43 L667.8 1343.7 L667.8 1345.97 L666.66 1348.24 L663.26 1350.51 L657.58 1352.78 L655.31 1353.92 L653.04 1356.19 L651.9 1359.59 L651.9 1363 M662.12 1339.16 L664.39 1340.29 L665.53 1341.43 L666.66 1343.7 L666.66 1345.97 L665.53 1348.24 L662.12 1350.51 L657.58 1352.78 M651.9 1360.73 L653.04 1359.59 L655.31 1359.59 L660.99 1361.86 L664.39 1361.86 L666.66 1360.73 L667.8 1359.59 M655.31 1359.59 L660.99 1363 L665.53 1363 L666.66 1361.86 L667.8 1359.59 L667.8 1357.32 M681.42 1339.16 L678.02 1340.29 L675.75 1343.7 L674.61 1349.38 L674.61 1352.78 L675.75 1358.46 L678.02 1361.86 L681.42 1363 L683.7 1363 L687.1 1361.86 L689.37 1358.46 L690.51 1352.78 L690.51 1349.38 L689.37 1343.7 L687.1 1340.29 L683.7 1339.16 L681.42 1339.16 M681.42 1339.16 L679.15 1340.29 L678.02 1341.43 L676.88 1343.7 L675.75 1349.38 L675.75 1352.78 L676.88 1358.46 L678.02 1360.73 L679.15 1361.86 L681.42 1363 M683.7 1363 L685.97 1361.86 L687.1 1360.73 L688.24 1358.46 L689.37 1352.78 L689.37 1349.38 L688.24 1343.7 L687.1 1341.43 L685.97 1340.29 L683.7 1339.16 M1033.84 1341.43 L1033.84 1363 M1034.98 1339.16 L1034.98 1363 M1034.98 1339.16 L1022.49 1356.19 L1040.66 1356.19 M1030.44 1363 L1038.38 1363 M1053.14 1339.16 L1049.74 1340.29 L1047.47 1343.7 L1046.33 1349.38 L1046.33 1352.78 L1047.47 1358.46 L1049.74 1361.86 L1053.14 1363 L1055.42 1363 L1058.82 1361.86 L1061.09 1358.46 L1062.23 1352.78 L1062.23 1349.38 L1061.09 1343.7 L1058.82 1340.29 L1055.42 1339.16 L1053.14 1339.16 M1053.14 1339.16 L1050.87 1340.29 L1049.74 1341.43 L1048.6 1343.7 L1047.47 1349.38 L1047.47 1352.78 L1048.6 1358.46 L1049.74 1360.73 L1050.87 1361.86 L1053.14 1363 M1055.42 1363 L1057.69 1361.86 L1058.82 1360.73 L1059.96 1358.46 L1061.09 1352.78 L1061.09 1349.38 L1059.96 1343.7 L1058.82 1341.43 L1057.69 1340.29 L1055.42 1339.16 M1408.97 1342.56 L1407.83 1343.7 L1408.97 1344.83 L1410.1 1343.7 L1410.1 1342.56 L1408.97 1340.29 L1406.7 1339.16 L1403.29 1339.16 L1399.89 1340.29 L1397.62 1342.56 L1396.48 1344.83 L1395.34 1349.38 L1395.34 1356.19 L1396.48 1359.59 L1398.75 1361.86 L1402.16 1363 L1404.43 1363 L1407.83 1361.86 L1410.1 1359.59 L1411.24 1356.19 L1411.24 1355.05 L1410.1 1351.65 L1407.83 1349.38 L1404.43 1348.24 L1403.29 1348.24 L1399.89 1349.38 L1397.62 1351.65 L1396.48 1355.05 M1403.29 1339.16 L1401.02 1340.29 L1398.75 1342.56 L1397.62 1344.83 L1396.48 1349.38 L1396.48 1356.19 L1397.62 1359.59 L1399.89 1361.86 L1402.16 1363 M1404.43 1363 L1406.7 1361.86 L1408.97 1359.59 L1410.1 1356.19 L1410.1 1355.05 L1408.97 1351.65 L1406.7 1349.38 L1404.43 1348.24 M1424.86 1339.16 L1421.46 1340.29 L1419.19 1343.7 L1418.05 1349.38 L1418.05 1352.78 L1419.19 1358.46 L1421.46 1361.86 L1424.86 1363 L1427.14 1363 L1430.54 1361.86 L1432.81 1358.46 L1433.95 1352.78 L1433.95 1349.38 L1432.81 1343.7 L1430.54 1340.29 L1427.14 1339.16 L1424.86 1339.16 M1424.86 1339.16 L1422.59 1340.29 L1421.46 1341.43 L1420.32 1343.7 L1419.19 1349.38 L1419.19 1352.78 L1420.32 1358.46 L1421.46 1360.73 L1422.59 1361.86 L1424.86 1363 M1427.14 1363 L1429.41 1361.86 L1430.54 1360.73 L1431.68 1358.46 L1432.81 1352.78 L1432.81 1349.38 L1431.68 1343.7 L1430.54 1341.43 L1429.41 1340.29 L1427.14 1339.16 M1772.74 1339.16 L1769.34 1340.29 L1768.2 1342.56 L1768.2 1345.97 L1769.34 1348.24 L1772.74 1349.38 L1777.28 1349.38 L1780.69 1348.24 L1781.82 1345.97 L1781.82 1342.56 L1780.69 1340.29 L1777.28 1339.16 L1772.74 1339.16 M1772.74 1339.16 L1770.47 1340.29 L1769.34 1342.56 L1769.34 1345.97 L1770.47 1348.24 L1772.74 1349.38 M1777.28 1349.38 L1779.55 1348.24 L1780.69 1345.97 L1780.69 1342.56 L1779.55 1340.29 L1777.28 1339.16 M1772.74 1349.38 L1769.34 1350.51 L1768.2 1351.65 L1767.06 1353.92 L1767.06 1358.46 L1768.2 1360.73 L1769.34 1361.86 L1772.74 1363 L1777.28 1363 L1780.69 1361.86 L1781.82 1360.73 L1782.96 1358.46 L1782.96 1353.92 L1781.82 1351.65 L1780.69 1350.51 L1777.28 1349.38 M1772.74 1349.38 L1770.47 1350.51 L1769.34 1351.65 L1768.2 1353.92 L1768.2 1358.46 L1769.34 1360.73 L1770.47 1361.86 L1772.74 1363 M1777.28 1363 L1779.55 1361.86 L1780.69 1360.73 L1781.82 1358.46 L1781.82 1353.92 L1780.69 1351.65 L1779.55 1350.51 L1777.28 1349.38 M1796.58 1339.16 L1793.18 1340.29 L1790.91 1343.7 L1789.77 1349.38 L1789.77 1352.78 L1790.91 1358.46 L1793.18 1361.86 L1796.58 1363 L1798.86 1363 L1802.26 1361.86 L1804.53 1358.46 L1805.67 1352.78 L1805.67 1349.38 L1804.53 1343.7 L1802.26 1340.29 L1798.86 1339.16 L1796.58 1339.16 M1796.58 1339.16 L1794.31 1340.29 L1793.18 1341.43 L1792.04 1343.7 L1790.91 1349.38 L1790.91 1352.78 L1792.04 1358.46 L1793.18 1360.73 L1794.31 1361.86 L1796.58 1363 M1798.86 1363 L1801.13 1361.86 L1802.26 1360.73 L1803.4 1358.46 L1804.53 1352.78 L1804.53 1349.38 L1803.4 1343.7 L1802.26 1341.43 L1801.13 1340.29 L1798.86 1339.16 M301.41 1306.46 L298 1307.59 L295.73 1311 L294.6 1316.68 L294.6 1320.08 L295.73 1325.76 L298 1329.16 L301.41 1330.3 L303.68 1330.3 L307.09 1329.16 L309.36 1325.76 L310.49 1320.08 L310.49 1316.68 L309.36 1311 L307.09 1307.59 L303.68 1306.46 L301.41 1306.46 M301.41 1306.46 L299.14 1307.59 L298 1308.73 L296.87 1311 L295.73 1316.68 L295.73 1320.08 L296.87 1325.76 L298 1328.03 L299.14 1329.16 L301.41 1330.3 M303.68 1330.3 L305.95 1329.16 L307.09 1328.03 L308.22 1325.76 L309.36 1320.08 L309.36 1316.68 L308.22 1311 L307.09 1308.73 L305.95 1307.59 L303.68 1306.46 M275.3 1110.4 L277.57 1109.26 L280.97 1105.86 L280.97 1129.7 M279.84 1106.99 L279.84 1129.7 M275.3 1129.7 L285.51 1129.7 M301.41 1105.86 L298 1106.99 L295.73 1110.4 L294.6 1116.08 L294.6 1119.48 L295.73 1125.16 L298 1128.56 L301.41 1129.7 L303.68 1129.7 L307.09 1128.56 L309.36 1125.16 L310.49 1119.48 L310.49 1116.08 L309.36 1110.4 L307.09 1106.99 L303.68 1105.86 L301.41 1105.86 M301.41 1105.86 L299.14 1106.99 L298 1108.13 L296.87 1110.4 L295.73 1116.08 L295.73 1119.48 L296.87 1125.16 L298 1127.43 L299.14 1128.56 L301.41 1129.7 M303.68 1129.7 L305.95 1128.56 L307.09 1127.43 L308.22 1125.16 L309.36 1119.48 L309.36 1116.08 L308.22 1110.4 L307.09 1108.13 L305.95 1106.99 L303.68 1105.86 M273.03 909.8 L274.16 910.93 L273.03 912.07 L271.89 910.93 L271.89 909.8 L273.03 907.53 L274.16 906.39 L277.57 905.26 L282.11 905.26 L285.51 906.39 L286.65 907.53 L287.79 909.8 L287.79 912.07 L286.65 914.34 L283.24 916.61 L277.57 918.88 L275.3 920.02 L273.03 922.29 L271.89 925.69 L271.89 929.1 M282.11 905.26 L284.38 906.39 L285.51 907.53 L286.65 909.8 L286.65 912.07 L285.51 914.34 L282.11 916.61 L277.57 918.88 M271.89 926.83 L273.03 925.69 L275.3 925.69 L280.97 927.96 L284.38 927.96 L286.65 926.83 L287.79 925.69 M275.3 925.69 L280.97 929.1 L285.51 929.1 L286.65 927.96 L287.79 925.69 L287.79 923.42 M301.41 905.26 L298 906.39 L295.73 909.8 L294.6 915.48 L294.6 918.88 L295.73 924.56 L298 927.96 L301.41 929.1 L303.68 929.1 L307.09 927.96 L309.36 924.56 L310.49 918.88 L310.49 915.48 L309.36 909.8 L307.09 906.39 L303.68 905.26 L301.41 905.26 M301.41 905.26 L299.14 906.39 L298 907.53 L296.87 909.8 L295.73 915.48 L295.73 918.88 L296.87 924.56 L298 926.83 L299.14 927.96 L301.41 929.1 M303.68 929.1 L305.95 927.96 L307.09 926.83 L308.22 924.56 L309.36 918.88 L309.36 915.48 L308.22 909.8 L307.09 907.53 L305.95 906.39 L303.68 905.26 M273.03 709.2 L274.16 710.33 L273.03 711.47 L271.89 710.33 L271.89 709.2 L273.03 706.93 L274.16 705.79 L277.57 704.66 L282.11 704.66 L285.51 705.79 L286.65 708.06 L286.65 711.47 L285.51 713.74 L282.11 714.88 L278.7 714.88 M282.11 704.66 L284.38 705.79 L285.51 708.06 L285.51 711.47 L284.38 713.74 L282.11 714.88 M282.11 714.88 L284.38 716.01 L286.65 718.28 L287.79 720.55 L287.79 723.96 L286.65 726.23 L285.51 727.36 L282.11 728.5 L277.57 728.5 L274.16 727.36 L273.03 726.23 L271.89 723.96 L271.89 722.82 L273.03 721.69 L274.16 722.82 L273.03 723.96 M285.51 717.15 L286.65 720.55 L286.65 723.96 L285.51 726.23 L284.38 727.36 L282.11 728.5 M301.41 704.66 L298 705.79 L295.73 709.2 L294.6 714.88 L294.6 718.28 L295.73 723.96 L298 727.36 L301.41 728.5 L303.68 728.5 L307.09 727.36 L309.36 723.96 L310.49 718.28 L310.49 714.88 L309.36 709.2 L307.09 705.79 L303.68 704.66 L301.41 704.66 M301.41 704.66 L299.14 705.79 L298 706.93 L296.87 709.2 L295.73 714.88 L295.73 718.28 L296.87 723.96 L298 726.23 L299.14 727.36 L301.41 728.5 M303.68 728.5 L305.95 727.36 L307.09 726.23 L308.22 723.96 L309.36 718.28 L309.36 714.88 L308.22 709.2 L307.09 706.93 L305.95 705.79 L303.68 704.66 M282.11 506.33 L282.11 527.9 M283.24 504.06 L283.24 527.9 M283.24 504.06 L270.75 521.09 L288.92 521.09 M278.7 527.9 L286.65 527.9 M301.41 504.06 L298 505.19 L295.73 508.6 L294.6 514.28 L294.6 517.68 L295.73 523.36 L298 526.76 L301.41 527.9 L303.68 527.9 L307.09 526.76 L309.36 523.36 L310.49 517.68 L310.49 514.28 L309.36 508.6 L307.09 505.19 L303.68 504.06 L301.41 504.06 M301.41 504.06 L299.14 505.19 L298 506.33 L296.87 508.6 L295.73 514.28 L295.73 517.68 L296.87 523.36 L298 525.63 L299.14 526.76 L301.41 527.9 M303.68 527.9 L305.95 526.76 L307.09 525.63 L308.22 523.36 L309.36 517.68 L309.36 514.28 L308.22 508.6 L307.09 506.33 L305.95 505.19 L303.68 504.06 M274.16 303.46 L271.89 314.81 M271.89 314.81 L274.16 312.54 L277.57 311.4 L280.97 311.4 L284.38 312.54 L286.65 314.81 L287.79 318.22 L287.79 320.49 L286.65 323.89 L284.38 326.16 L280.97 327.3 L277.57 327.3 L274.16 326.16 L273.03 325.03 L271.89 322.76 L271.89 321.62 L273.03 320.49 L274.16 321.62 L273.03 322.76 M280.97 311.4 L283.24 312.54 L285.51 314.81 L286.65 318.22 L286.65 320.49 L285.51 323.89 L283.24 326.16 L280.97 327.3 M274.16 303.46 L285.51 303.46 M274.16 304.59 L279.84 304.59 L285.51 303.46 M301.41 303.46 L298 304.59 L295.73 308 L294.6 313.68 L294.6 317.08 L295.73 322.76 L298 326.16 L301.41 327.3 L303.68 327.3 L307.09 326.16 L309.36 322.76 L310.49 317.08 L310.49 313.68 L309.36 308 L307.09 304.59 L303.68 303.46 L301.41 303.46 M301.41 303.46 L299.14 304.59 L298 305.73 L296.87 308 L295.73 313.68 L295.73 317.08 L296.87 322.76 L298 325.03 L299.14 326.16 L301.41 327.3 M303.68 327.3 L305.95 326.16 L307.09 325.03 L308.22 322.76 L309.36 317.08 L309.36 313.68 L308.22 308 L307.09 305.73 L305.95 304.59 L303.68 303.46 M1938.54 1376.56 L1938.54 1400.4 M1939.68 1376.56 L1939.68 1400.4 M1938.54 1387.91 L1936.27 1385.64 L1934 1384.5 L1931.73 1384.5 L1928.32 1385.64 L1926.05 1387.91 L1924.92 1391.32 L1924.92 1393.59 L1926.05 1396.99 L1928.32 1399.26 L1931.73 1400.4 L1934 1400.4 L1936.27 1399.26 L1938.54 1396.99 M1931.73 1384.5 L1929.46 1385.64 L1927.19 1387.91 L1926.05 1391.32 L1926.05 1393.59 L1927.19 1396.99 L1929.46 1399.26 L1931.73 1400.4 M1935.14 1376.56 L1939.68 1376.56 M1938.54 1400.4 L1943.08 1400.4 M1949.9 1391.32 L1963.52 1391.32 L1963.52 1389.05 L1962.39 1386.78 L1961.25 1385.64 L1958.98 1384.5 L1955.57 1384.5 L1952.17 1385.64 L1949.9 1387.91 L1948.76 1391.32 L1948.76 1393.59 L1949.9 1396.99 L1952.17 1399.26 L1955.57 1400.4 L1957.84 1400.4 L1961.25 1399.26 L1963.52 1396.99 M1962.39 1391.32 L1962.39 1387.91 L1961.25 1385.64 M1955.57 1384.5 L1953.3 1385.64 L1951.03 1387.91 L1949.9 1391.32 L1949.9 1393.59 L1951.03 1396.99 L1953.3 1399.26 L1955.57 1400.4 M1976.01 1384.5 L1973.74 1385.64 L1972.6 1386.78 L1971.47 1389.05 L1971.47 1391.32 L1972.6 1393.59 L1973.74 1394.72 L1976.01 1395.86 L1978.28 1395.86 L1980.55 1394.72 L1981.69 1393.59 L1982.82 1391.32 L1982.82 1389.05 L1981.69 1386.78 L1980.55 1385.64 L1978.28 1384.5 L1976.01 1384.5 M1973.74 1385.64 L1972.6 1387.91 L1972.6 1392.45 L1973.74 1394.72 M1980.55 1394.72 L1981.69 1392.45 L1981.69 1387.91 L1980.55 1385.64 M1981.69 1386.78 L1982.82 1385.64 L1985.09 1384.5 L1985.09 1385.64 L1982.82 1385.64 M1972.6 1393.59 L1971.47 1394.72 L1970.33 1396.99 L1970.33 1398.13 L1971.47 1400.4 L1974.88 1401.54 L1980.55 1401.54 L1983.96 1402.67 L1985.09 1403.81 M1970.33 1398.13 L1971.47 1399.26 L1974.88 1400.4 L1980.55 1400.4 L1983.96 1401.54 L1985.09 1403.81 L1985.09 1404.94 L1983.96 1407.21 L1980.55 1408.35 L1973.74 1408.35 L1970.33 1407.21 L1969.2 1404.94 L1969.2 1403.81 L1970.33 1401.54 L1973.74 1400.4"/>
<!-- brightness temperature curve, elevation 3..90 deg -->
<path class="curve" d="M355.24 427.4 L358.96 459.28 L362.68 491.7 L366.4 521.9 L370.11 550.06 L373.83 576.36 L377.55 600.88 L381.26 623.83 L384.98 645.35 L388.7 665.55 L392.42 684.54 L396.13 702.38 L399.85 719.19 L403.57 735.06 L407.28 750.07 L411 764.28 L414.72 777.75 L418.44 790.53 L422.15 802.67 L425.87 814.22 L429.59 825.22 L433.31 835.7 L437.02 845.71 L440.74 855.27 L444.46 864.41 L448.17 873.15 L451.89 881.53 L455.61 889.56 L459.33 897.27 L463.04 904.66 L466.76 911.77 L470.48 918.61 L474.19 925.19 L477.91 931.52 L481.63 937.62 L485.35 943.51 L503.93 969.99 L522.52 992.43 L541.1 1011.68 L559.69 1028.36 L578.28 1042.94 L596.86 1055.8 L615.45 1067.19 L634.03 1077.36 L652.62 1086.49 L671.21 1094.74 L689.79 1102.21 L708.38 1109.02 L726.96 1115.24 L745.55 1120.95 L764.14 1126.2 L782.72 1131.05 L801.31 1135.54 L819.89 1139.7 L838.48 1143.57 L857.07 1147.18 L875.65 1150.54 L894.24 1153.69 L912.82 1156.64 L931.41 1159.4 L950 1161.99 L968.58 1164.43 L987.17 1166.73 L1005.75 1168.9 L1024.34 1170.94 L1042.93 1172.87 L1061.51 1174.7 L1080.1 1176.43 L1098.68 1178.06 L1117.27 1179.61 L1135.86 1181.08 L1154.44 1182.47 L1173.03 1183.8 L1191.61 1185.05 L1210.2 1186.24 L1228.79 1187.37 L1247.37 1188.45 L1265.96 1189.47 L1284.54 1190.45 L1303.13 1191.37 L1321.72 1192.25 L1340.3 1193.08 L1358.89 1193.88 L1377.47 1194.63 L1396.06 1195.35 L1414.65 1196.03 L1433.23 1196.7 L1451.82 1197.34 L1470.4 1197.94 L1488.99 1198.52 L1507.58 1199.06 L1526.16 1199.58 L1544.75 1200.07 L1563.33 1200.53 L1581.92 1200.96 L1600.51 1201.37 L1619.09 1201.76 L1637.68 1202.12 L1656.26 1202.46 L1674.85 1202.78 L1693.44 1203.07 L1712.02 1203.36 L1730.61 1203.62 L1749.19 1203.87 L1767.78 1204.09 L1786.37 1204.29 L1804.95 1204.48 L1823.54 1204.64 L1842.12 1204.79 L1860.71 1204.91 L1879.3 1205.02 L1897.88 1205.11 L1916.47 1205.18 L1935.05 1205.23 L1953.64 1205.27 L1972.23 1205.28"/>
</svg>
<div class="sr">Atm. brightness temp. in K at GGAO12M  on 2024.01.14-20:00 at  12.0 GHz az   0.0 &#8212; x axis: 20 40 60 80 deg &#8212; y axis: 0 10 20 30 40 50</div>
</body>
</html>
